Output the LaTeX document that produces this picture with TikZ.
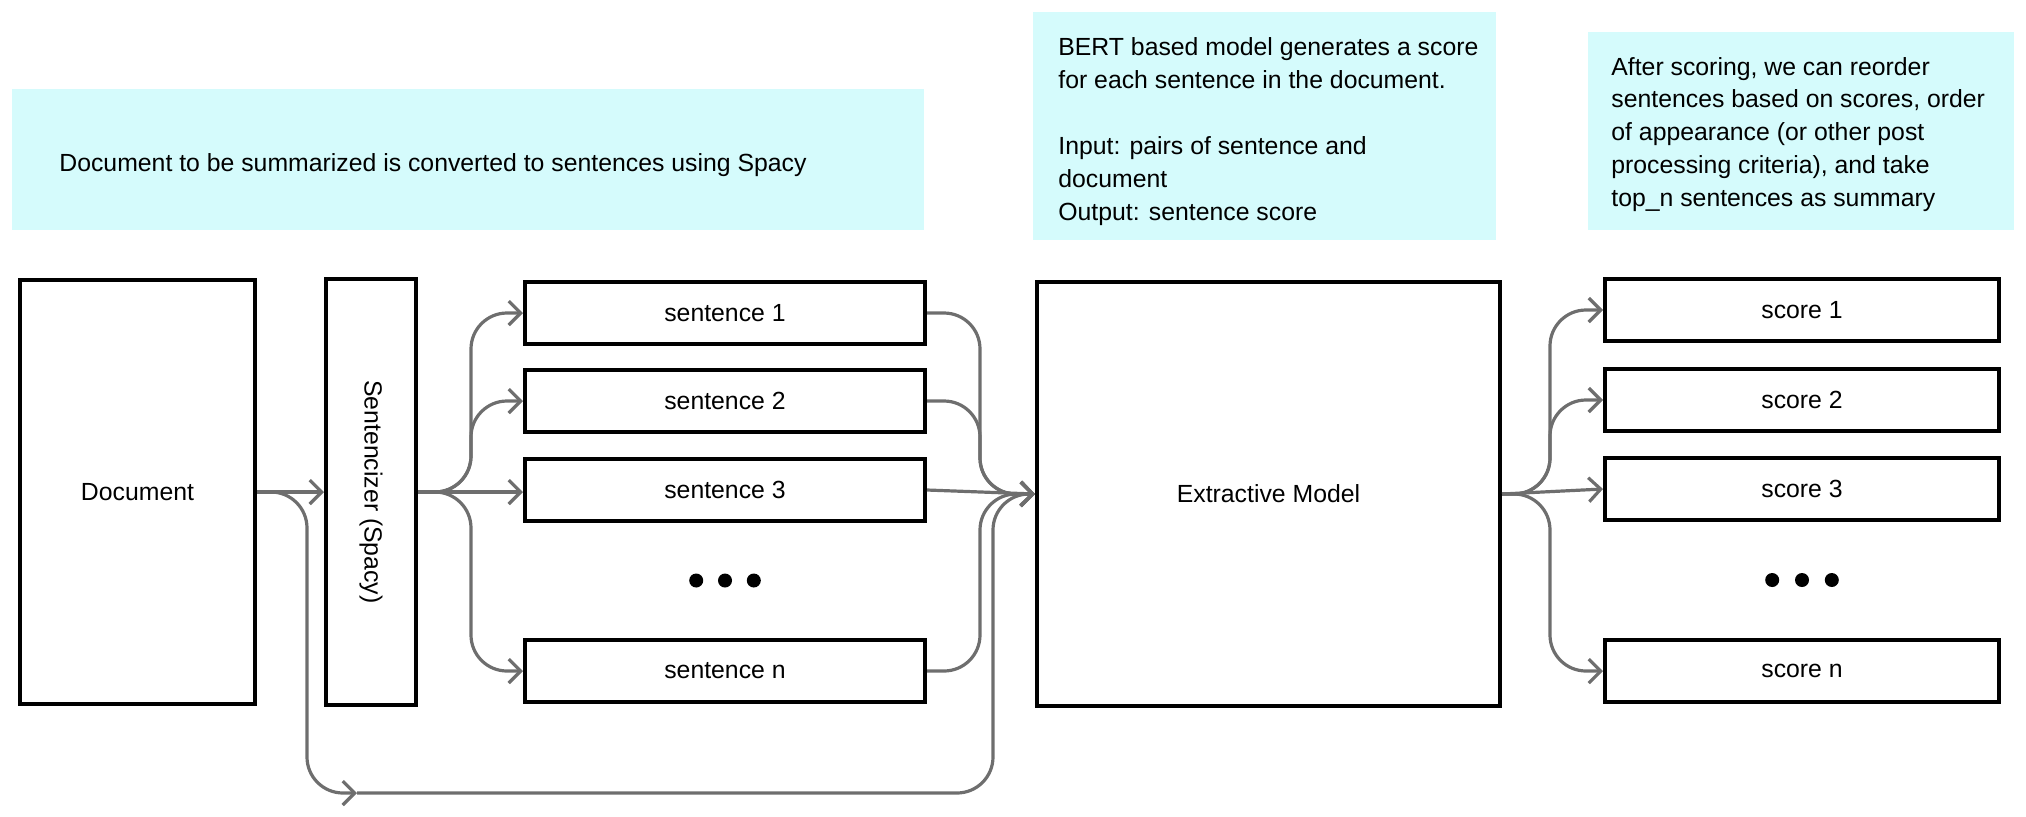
\documentclass[tikz,border=0pt]{standalone}
\usepackage{fontspec}
\setmainfont{Liberation Sans}
\usepackage{graphicx}
\usetikzlibrary{arrows.meta,positioning,calc}

\definecolor{notecyan}{RGB}{213,251,252}
\definecolor{wiregray}{RGB}{110,110,110}

\begin{document}
\begin{tikzpicture}[x=0.5pt, y=-0.5pt, font=\fontsize{12.4}{15}\selectfont,
  >={Straight Barb[length=6pt,width=12pt]},
  block/.style={draw, rectangle, line width=2pt},
  sentbox/.style={block, minimum width=200pt, minimum height=31pt},
  scorebox/.style={block, minimum width=197pt, minimum height=31pt},
  bigdot/.style={circle, fill=black, inner sep=0pt, minimum size=7pt},
  notebox/.style={rectangle, fill=notecyan, inner sep=0pt, anchor=north west},
  notetext/.style={align=left, inner sep=0pt},
  wire/.style={draw=wiregray, line width=1.6pt, ->, rounded corners=18pt}]
\useasboundingbox (0,0) rectangle (2026,816);

% notes
\node[notebox, minimum width=456pt, minimum height=70.5pt] (note1) at (12,89) {};
\node[notetext, anchor=west] (note1text) at ([xshift=23.5pt, yshift=-2.5pt]note1.west) {Document to be summarized is converted to sentences using Spacy};
\node[notebox, minimum width=231.5pt, minimum height=114pt] (note2) at (1033,12) {};
\node[notetext, anchor=north west, font=\fontsize{12.4}{16.5}\selectfont] (note2text) at ([xshift=12.5pt, yshift=-12.4pt]note2.north west) {BERT based model generates a score\\for each sentence in the document.\\[16.5pt]Input: pairs of sentence and\\document\\Output: sentence score};
\node[notebox, minimum width=213pt, minimum height=99pt] (note3) at (1588,32) {};
\node[notetext, anchor=north west, font=\fontsize{12.4}{16.4}\selectfont] (note3text) at ([xshift=11.5pt, yshift=-12.4pt]note3.north west) {After scoring, we can reorder\\sentences based on scores, order\\of appearance (or other post\\processing criteria), and take\\top\_n sentences as summary};

% blocks
\node[block, minimum width=117.5pt, minimum height=212pt] (doc) at (137.5,492) {Document};
\node[block, minimum width=45pt, minimum height=213pt, right=33.5pt of doc] (spacy) {\rotatebox{-90}{Sentencizer (Spacy)}};

% sentences
\node[sentbox, below right=1.5pt and 52.5pt of spacy.north east] (s1) {sentence 1};
\node[sentbox, below=11pt of s1] (s2) {sentence 2};
\node[sentbox, below=11.5pt of s2] (s3) {sentence 3};
\node[sentbox, below=57.5pt of s3] (sn) {sentence n};
\node[bigdot] (sdot2) at ($(s3.south)!.5!(sn.north)$) {};
\node[bigdot, left=7pt of sdot2] (sdot1) {};
\node[bigdot, right=7pt of sdot2] (sdot3) {};

% model
\node[block, minimum width=231.5pt, minimum height=212pt, below right=0pt and 54pt of s1.north east] (model) {Extractive Model};

% scores
\node[scorebox, below right=-1.5pt and 50.5pt of model.north east] (c1) {score 1};
\node[scorebox, below=12pt of c1] (c2) {score 2};
\node[scorebox, below=11.5pt of c2] (c3) {score 3};
\node[scorebox, below=58pt of c3] (cn) {score n};
\node[bigdot] (cdot2) at ($(c3.south)!.5!(cn.north)$) {};
\node[bigdot, left=7.5pt of cdot2] (cdot1) {};
\node[bigdot, right=7.5pt of cdot2] (cdot3) {};

% connections
\draw[wire] (doc.east) -- (spacy.west);
\foreach \s in {s1,s2,sn}
  \draw[wire] (spacy.east) -| ([xshift=-26pt]\s.west) -- (\s.west);
\draw[wire] (spacy.east) -- (spacy.east -| s3.west);
\foreach \s in {s1,s2,sn}
  \draw[wire] (\s.east) -| ([xshift=-27.5pt]model.west) -- (model.west);
\draw[wire] (s3.east) -- (model.west);

% document skips the sentencizer
\coordinate (skip) at ($(doc.south east)+(50pt,-43.5pt)$);
\draw[wire] (doc.east) -| ($(doc.east |- skip)+(25pt,0)$) -- (skip);
\draw[wire] (skip) -| ([xshift=-21pt]model.west) -- (model.west);

\foreach \s in {c1,c2,cn}
  \draw[wire] (model.east) -| ([xshift=-26.5pt]\s.west) -- (\s.west);
\draw[wire] (model.east) -- (c3.west);
\end{tikzpicture}
\end{document}
